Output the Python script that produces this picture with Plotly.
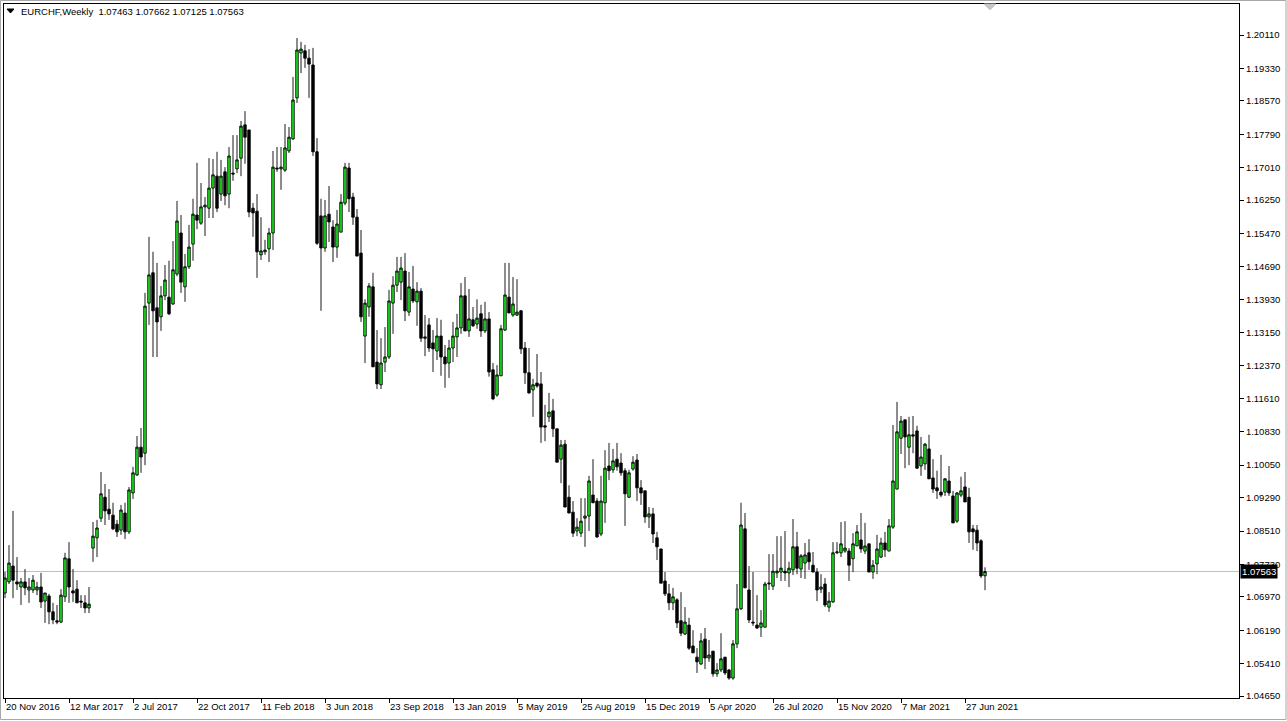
import pandas as pd
import plotly.graph_objects as go

SYMBOL = "EURCHF,Weekly"
START = "2016-11-20"

OPEN = [1.0706,1.0732,1.0769,1.0732,1.0720,1.0732,1.0713,1.0713,1.0713,1.0720,
        1.0687,1.0699,1.0662,1.0641,1.0638,1.0697,1.0786,1.0711,1.0715,1.0687,
        1.0683,1.0671,1.0811,1.0835,1.0881,1.0930,1.0902,1.0888,1.0867,1.0853,
        1.0893,1.0849,1.0940,1.0982,1.1047,1.1033,1.1384,1.1455,1.1373,1.1352,
        1.1401,1.1398,1.1382,1.1452,1.1548,1.1422,1.1469,1.1522,1.1590,1.1571,
        1.1609,1.1606,1.1653,1.1681,1.1639,1.1691,1.1639,1.1688,1.1698,1.1723,
        1.1801,1.1789,1.1606,1.1599,1.1497,1.1504,1.1511,1.1548,1.1700,1.1698,
        1.1695,1.1740,1.1768,1.1864,1.1969,1.1974,1.1957,1.1941,1.1738,1.1588,
        1.1513,1.1592,1.1562,1.1515,1.1550,1.1618,1.1700,1.1632,1.1585,1.1501,
        1.1307,1.1375,1.1422,1.1246,1.1193,1.1246,1.1258,1.1384,1.1426,1.1433,
        1.1459,1.1363,1.1417,1.1387,1.1412,1.1305,1.1333,1.1291,1.1272,1.1307,
        1.1258,1.1244,1.1279,1.1305,1.1326,1.1401,1.1319,1.1345,1.1335,1.1359,
        1.1319,1.1347,1.1228,1.1169,1.1214,1.1321,1.1398,1.1356,1.1356,1.1366,
        1.1279,1.1221,1.1181,1.1197,1.1195,1.1097,1.1118,1.1132,1.1090,1.1019,
        1.1054,1.0930,1.0895,1.0851,1.0846,1.0881,1.0886,1.0935,1.0921,1.0844,
        1.0917,1.1003,1.0994,1.1019,1.1010,1.0992,1.0930,1.0996,1.1017,1.0952,
        1.0945,1.0884,1.0891,1.0835,1.0809,1.0734,1.0704,1.0683,1.0690,1.0641,
        1.0610,1.0631,1.0582,1.0556,1.0540,1.0598,1.0554,1.0570,1.0517,1.0526,
        1.0556,1.0526,1.0507,1.0587,1.0669,1.0856,1.0713,1.0638,1.0631,1.0626,
        1.0626,1.0727,1.0722,1.0753,1.0755,1.0757,1.0753,1.0760,1.0814,1.0762,
        1.0776,1.0800,1.0771,1.0755,1.0715,1.0727,1.0673,1.0685,1.0800,1.0800,
        1.0804,1.0804,1.0786,1.0816,1.0830,1.0804,1.0821,1.0755,1.0774,1.0790,
        1.0823,1.0804,1.0860,1.0949,1.1068,1.1111,1.1047,1.1076,1.1085,1.1003,
        1.1008,1.1043,1.0975,1.0952,1.0942,1.0942,1.0968,1.0933,1.0874,1.0935,
        1.0954,1.0930,1.0856,1.0853,1.0828,1.07463]

HIGH = [1.0755,1.0818,1.0898,1.0790,1.0741,1.0762,1.0741,1.0748,1.0732,1.0753,
        1.0706,1.0704,1.0683,1.0678,1.0715,1.0800,1.0825,1.0762,1.0736,1.0701,
        1.0701,1.0720,1.0872,1.0877,1.0989,1.0961,1.0949,1.0917,1.0877,1.0912,
        1.0917,1.0954,1.1001,1.1073,1.1092,1.1408,1.1539,1.1504,1.1478,1.1424,
        1.1473,1.1483,1.1529,1.1623,1.1590,1.1499,1.1567,1.1628,1.1712,1.1665,
        1.1632,1.1723,1.1721,1.1738,1.1719,1.1702,1.1749,1.1777,1.1777,1.1810,
        1.1833,1.1789,1.1618,1.1639,1.1585,1.1532,1.1560,1.1740,1.1749,1.1749,
        1.1803,1.1796,1.1913,1.2004,1.1995,1.1988,1.1978,1.1981,1.1770,1.1628,
        1.1625,1.1658,1.1578,1.1602,1.1639,1.1712,1.1712,1.1642,1.1604,1.1555,
        1.1393,1.1431,1.1455,1.1321,1.1302,1.1328,1.1415,1.1447,1.1492,1.1492,
        1.1501,1.1457,1.1471,1.1433,1.1419,1.1356,1.1349,1.1321,1.1349,1.1345,
        1.1286,1.1298,1.1340,1.1359,1.1431,1.1445,1.1417,1.1375,1.1393,1.1380,
        1.1387,1.1363,1.1244,1.1239,1.1333,1.1478,1.1478,1.1445,1.1440,1.1368,
        1.1293,1.1279,1.1207,1.1265,1.1223,1.1146,1.1174,1.1160,1.1090,1.1064,
        1.1064,1.0958,1.0921,1.0881,1.0928,1.0928,1.0980,1.1019,1.0928,1.0980,
        1.1040,1.1057,1.1043,1.1057,1.1033,1.0998,1.0994,1.1026,1.1031,1.0970,
        1.0945,1.0907,1.0905,1.0849,1.0809,1.0755,1.0727,1.0718,1.0694,1.0708,
        1.0673,1.0648,1.0619,1.0577,1.0612,1.0624,1.0596,1.0570,1.0542,1.0612,
        1.0556,1.0528,1.0596,1.0727,1.0917,1.0893,1.0769,1.0755,1.0701,1.0666,
        1.0732,1.0797,1.0797,1.0839,1.0839,1.0851,1.0779,1.0879,1.0849,1.0797,
        1.0823,1.0832,1.0802,1.0764,1.0750,1.0741,1.0708,1.0825,1.0825,1.0872,
        1.0874,1.0811,1.0846,1.0865,1.0893,1.0870,1.0821,1.0783,1.0842,1.0835,
        1.0849,1.0879,1.1099,1.1153,1.1120,1.1111,1.1118,1.1120,1.1097,1.1071,
        1.1057,1.1076,1.1019,1.0992,1.1029,1.0975,1.1003,1.0945,1.0942,1.0978,
        1.0989,1.0952,1.0865,1.0865,1.0832,1.07662]

LOW = [1.0694,1.0727,1.0694,1.0713,1.0678,1.0701,1.0683,1.0706,1.0701,1.0671,
       1.0636,1.0633,1.0633,1.0633,1.0636,1.0685,1.0683,1.0685,1.0683,1.0671,
       1.0659,1.0659,1.0779,1.0790,1.0872,1.0865,1.0877,1.0853,1.0837,1.0842,
       1.0832,1.0844,1.0926,1.0980,1.0987,1.1005,1.1333,1.1258,1.1258,1.1319,
       1.1391,1.1356,1.1380,1.1447,1.1408,1.1387,1.1464,1.1483,1.1557,1.1567,
       1.1541,1.1583,1.1583,1.1597,1.1623,1.1613,1.1606,1.1670,1.1688,1.1681,
       1.1710,1.1585,1.1539,1.1443,1.1485,1.1497,1.1480,1.1508,1.1691,1.1649,
       1.1691,1.1735,1.1766,1.1852,1.1922,1.1934,1.1864,1.1728,1.1520,1.1366,
       1.1504,1.1527,1.1480,1.1490,1.1550,1.1613,1.1597,1.1567,1.1494,1.1340,
       1.1244,1.1352,1.1235,1.1183,1.1183,1.1223,1.1253,1.1312,1.1410,1.1391,
       1.1342,1.1354,1.1384,1.1331,1.1293,1.1260,1.1270,1.1223,1.1251,1.1214,
       1.1186,1.1209,1.1246,1.1258,1.1312,1.1319,1.1305,1.1328,1.1324,1.1305,
       1.1314,1.1212,1.1157,1.1165,1.1214,1.1319,1.1361,1.1352,1.1354,1.1265,
       1.1195,1.1172,1.1118,1.1186,1.1057,1.1061,1.1106,1.1071,1.1012,1.0963,
       1.0907,1.0893,1.0837,1.0839,1.0837,1.0814,1.0851,1.0917,1.0835,1.0839,
       1.0870,1.0970,1.0987,1.0992,1.0980,1.0863,1.0928,1.0992,1.0921,1.0912,
       1.0870,1.0858,1.0823,1.0783,1.0729,1.0699,1.0666,1.0666,1.0624,1.0605,
       1.0608,1.0573,1.0566,1.0519,1.0538,1.0528,1.0545,1.0510,1.0510,1.0521,
       1.0514,1.0503,1.0503,1.0577,1.0666,1.0718,1.0636,1.0629,1.0622,1.0603,
       1.0626,1.0713,1.0713,1.0741,1.0734,1.0734,1.0720,1.0748,1.0750,1.0741,
       1.0739,1.0760,1.0755,1.0687,1.0706,1.0673,1.0662,1.0683,1.0797,1.0790,
       1.0800,1.0734,1.0755,1.0816,1.0800,1.0797,1.0755,1.0739,1.0750,1.0788,
       1.0790,1.0804,1.0856,1.0949,1.1031,1.0998,1.1005,1.1033,1.0996,1.0980,
       1.0994,1.0973,1.0940,1.0926,1.0930,1.0933,1.0933,1.0870,1.0870,1.0930,
       1.0919,1.0823,1.0807,1.0804,1.0741,1.07125]

CLOSE = [1.0741,1.0776,1.0736,1.0727,1.0732,1.0718,1.0720,1.0736,1.0720,1.0685,
         1.0706,1.0662,1.0643,1.0638,1.0701,1.0788,1.0720,1.0706,1.0683,1.0685,
         1.0671,1.0680,1.0839,1.0858,1.0938,1.0898,1.0891,1.0856,1.0849,1.0900,
         1.0849,1.0947,1.0987,1.1047,1.1024,1.1377,1.1450,1.1366,1.1340,1.1401,
         1.1438,1.1359,1.1462,1.1576,1.1433,1.1469,1.1515,1.1592,1.1578,1.1609,
         1.1613,1.1653,1.1684,1.1606,1.1681,1.1635,1.1728,1.1686,1.1719,1.1798,
         1.1772,1.1597,1.1595,1.1504,1.1506,1.1508,1.1548,1.1702,1.1698,1.1702,
         1.1747,1.1772,1.1859,1.1976,1.1978,1.1957,1.1943,1.1738,1.1524,1.1513,
         1.1588,1.1574,1.1515,1.1569,1.1620,1.1702,1.1628,1.1585,1.1494,1.1352,
         1.1384,1.1424,1.1235,1.1195,1.1244,1.1258,1.1389,1.1426,1.1459,1.1466,
         1.1366,1.1422,1.1389,1.1412,1.1302,1.1302,1.1279,1.1277,1.1307,1.1258,
         1.1242,1.1279,1.1307,1.1326,1.1401,1.1319,1.1347,1.1331,1.1349,1.1319,
         1.1347,1.1223,1.1160,1.1216,1.1324,1.1403,1.1361,1.1382,1.1363,1.1277,
         1.1221,1.1174,1.1193,1.1190,1.1094,1.1094,1.1129,1.1090,1.1012,1.1052,
         1.0907,1.0893,1.0846,1.0860,1.0874,1.0886,1.0968,1.0917,1.0837,1.0921,
         1.0998,1.0992,1.1015,1.1001,1.0987,1.0938,1.0987,1.1012,1.0952,1.0940,
         1.0884,1.0891,1.0844,1.0814,1.0729,1.0704,1.0683,1.0697,1.0636,1.0612,
         1.0638,1.0577,1.0566,1.0545,1.0594,1.0554,1.0561,1.0517,1.0526,1.0552,
         1.0519,1.0507,1.0587,1.0669,1.0865,1.0718,1.0643,1.0636,1.0624,1.0636,
         1.0727,1.0729,1.0757,1.0757,1.0764,1.0753,1.0764,1.0814,1.0764,1.0793,
         1.0795,1.0779,1.0755,1.0713,1.0720,1.0678,1.0687,1.0800,1.0802,1.0821,
         1.0811,1.0771,1.0821,1.0849,1.0809,1.0816,1.0755,1.0771,1.0809,1.0823,
         1.0807,1.0863,1.0968,1.1083,1.1108,1.1071,1.1076,1.1073,1.0998,1.1024,
         1.1054,1.0973,1.0949,1.0945,1.0935,1.0973,1.0940,1.0870,1.0940,1.0945,
         1.0919,1.0849,1.0849,1.0823,1.0746,1.07563]

Y_TICKS = [1.20110, 1.19330, 1.18570, 1.17790, 1.17010, 1.16250, 1.15470,
           1.14690, 1.13930, 1.13150, 1.12370, 1.11610, 1.10830, 1.10050,
           1.09290, 1.08510, 1.07730, 1.06970, 1.06190, 1.05410, 1.04650]
Y_RANGE = [1.04604, 1.20836]
LABEL_EVERY = 16

dates = pd.date_range(START, periods=len(OPEN), freq="7D")
week = pd.Timedelta(days=7)
x_start = dates[0] - 0.25 * week
x_end = dates[0] + 308.5 * week

W, H = 1287, 721
ML, MR, MT, MB = 4, 48, 4, 23
PW, PH = W - ML - MR, H - MT - MB


def px(x):
    return (x - ML) / PW


def py(y):
    return (H - MB - y) / PH


FONT = "Liberation Sans, Arial, sans-serif"
FS = 9.5

fig = go.Figure()
fig.add_trace(go.Candlestick(
    x=dates, open=OPEN, high=HIGH, low=LOW, close=CLOSE,
    increasing=dict(line=dict(color="black", width=0.9), fillcolor="#1eff1e"),
    decreasing=dict(line=dict(color="black", width=0.9), fillcolor="black"),
    whiskerwidth=0, showlegend=False, hoverinfo="skip",
))

last = CLOSE[-1]
fig.add_shape(type="line", xref="paper", yref="y", x0=0, x1=1, y0=last, y1=last,
              line=dict(color="#c0c0c0", width=1), layer="below")

fig.add_annotation(xref="paper", yref="y", x=1, y=last, xanchor="left", yanchor="middle",
                   xshift=1, text=f"{last:.5f}", showarrow=False,
                   bgcolor="black", borderpad=1,
                   font=dict(family=FONT, size=FS, color="white"))

title = f"{SYMBOL}  {OPEN[-1]:.5f} {HIGH[-1]:.5f} {LOW[-1]:.5f} {CLOSE[-1]:.5f}"
fig.add_annotation(xref="paper", yref="paper", x=px(19), y=py(12), xanchor="left",
                   yanchor="middle", text=title, showarrow=False,
                   font=dict(family=FONT, size=FS, color="black"))
fig.add_shape(type="path", xref="paper", yref="paper",
              path=f"M {px(7)} {py(9)} L {px(14)} {py(9)} L {px(10.5)} {py(13)} Z",
              fillcolor="black", line=dict(color="black", width=1))
fig.add_shape(type="path", xref="paper", yref="paper",
              path=f"M {px(984)} {py(4)} L {px(996)} {py(4)} L {px(990)} {py(10)} Z",
              fillcolor="#c8c8c8", line=dict(color="#c8c8c8", width=1))
fig.add_shape(type="rect", xref="paper", yref="paper",
              x0=px(0.5), x1=px(1286), y0=py(719.5), y1=py(0.5),
              line=dict(color="#a8a8a8", width=1), fillcolor="rgba(0,0,0,0)")

fig.update_layout(
    width=W, height=H, autosize=False,
    margin=dict(l=ML, r=MR, t=MT, b=MB, pad=0),
    paper_bgcolor="white", plot_bgcolor="white",
    font=dict(family=FONT, size=FS, color="black"),
    showlegend=False,
    boxgap=0.12,
    xaxis=dict(
        type="date", range=[x_start, x_end],
        rangeslider=dict(visible=False),
        tickvals=list(dates[::LABEL_EVERY]), tickformat="%-d %b %Y",
        ticklabelposition="outside right", tickangle=0, automargin=False,
        ticks="outside", ticklen=4, tickcolor="black", tickwidth=1,
        showline=True, linecolor="black", linewidth=1, mirror=True,
        showgrid=False, zeroline=False,
        tickfont=dict(family=FONT, size=FS, color="black"),
    ),
    yaxis=dict(
        side="right", range=Y_RANGE, automargin=False,
        tickvals=Y_TICKS, ticktext=[f"{v:.5f}" for v in Y_TICKS],
        ticks="outside", ticklen=4, tickcolor="black", tickwidth=1,
        showline=True, linecolor="black", linewidth=1, mirror=True,
        showgrid=False, zeroline=False,
        tickfont=dict(family=FONT, size=FS, color="black"),
    ),
)

fig.write_html("out.html", config={"displayModeBar": False, "staticPlot": True},
               post_script="document.body.style.margin='0px';document.body.style.overflow='hidden';")
